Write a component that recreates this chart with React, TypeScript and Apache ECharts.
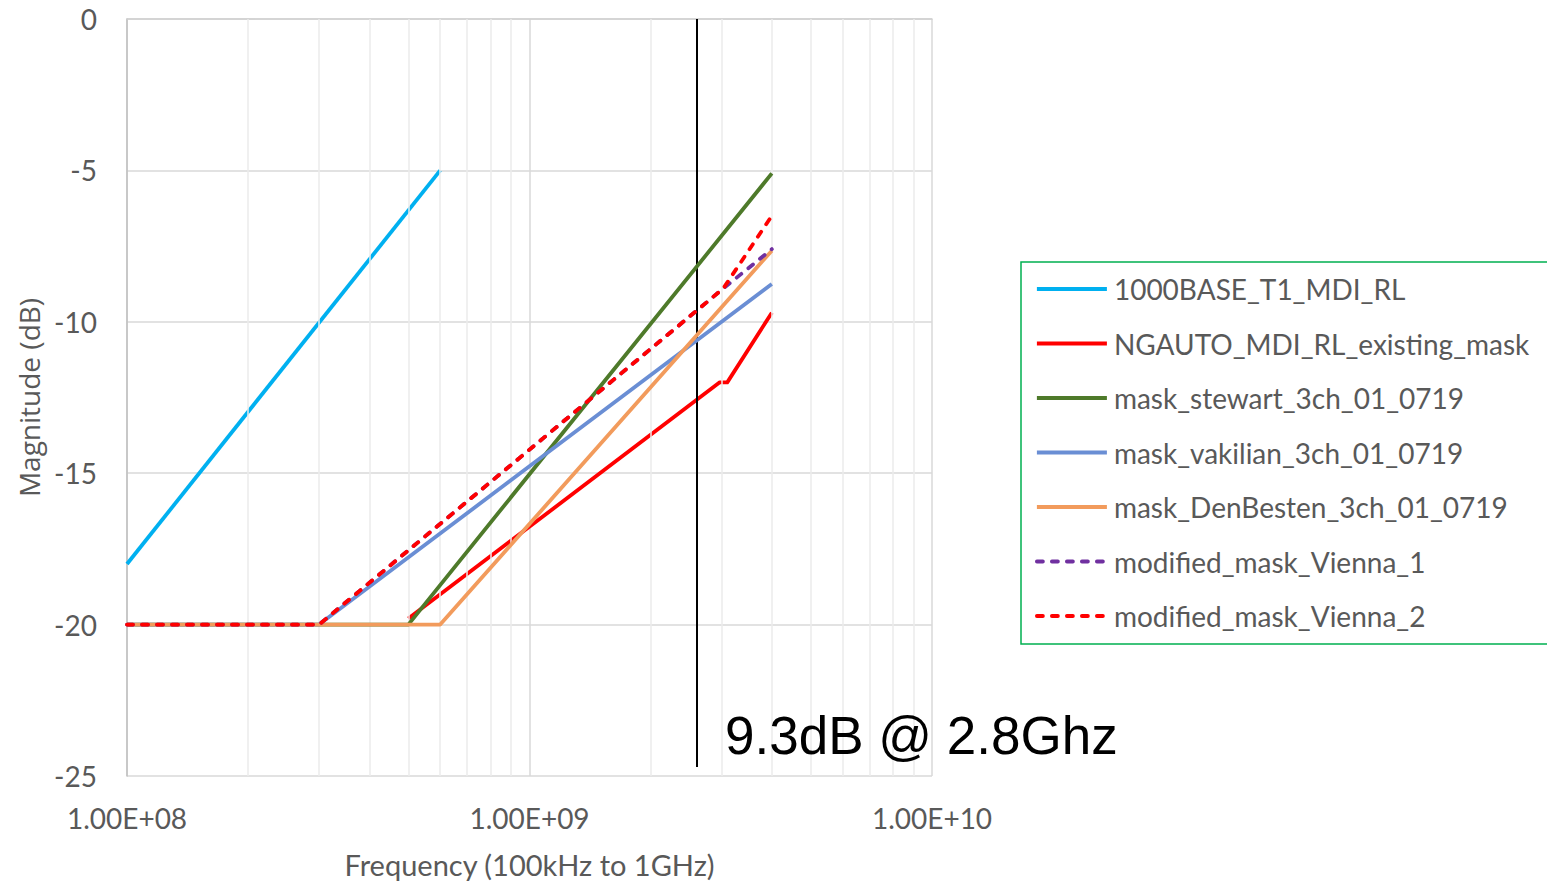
import React, { useEffect, useRef } from "react";
import * as echarts from "echarts";

const SERIES_NAMES = [
  "1000BASE_T1_MDI_RL",
  "NGAUTO_MDI_RL_existing_mask",
  "mask_stewart_3ch_01_0719",
  "mask_vakilian_3ch_01_0719",
  "mask_DenBesten_3ch_01_0719",
  "modified_mask_Vienna_1",
  "modified_mask_Vienna_2",
];

const T1_MDI_RL: [number, number][] = [[1e8, -18], [6e8, -5]];
const NGAUTO_EXISTING: [number, number][] = [[5e8, -19.8], [2.97e9, -12], [3.1e9, -12], [4e9, -9.7]];
const STEWART: [number, number][] = [[1e8, -20], [5e8, -20], [4e9, -5.1]];
const VAKILIAN: [number, number][] = [[1e8, -20], [3e8, -20], [4e9, -8.75]];
const DENBESTEN: [number, number][] = [[1e8, -20], [6e8, -20], [4e9, -7.65]];
const VIENNA_1: [number, number][] = [[1e8, -20], [3e8, -20], [3.03e9, -8.9], [4e9, -7.6]];
const VIENNA_2: [number, number][] = [[1e8, -20], [3e8, -20], [3.03e9, -8.9], [4e9, -6.5]];

const MINOR_FREQS = [2e8, 3e8, 4e8, 5e8, 6e8, 7e8, 8e8, 9e8, 2e9, 3e9, 4e9, 5e9, 6e9, 7e9, 8e9, 9e9];
const MARKER_FREQ = 2.6e9;
const MARKER_TOP = 0;
const MARKER_BOTTOM = -24.7;
const ANNOTATION = "9.3dB @ 2.8Ghz";

const X_MIN = 1e8;
const X_MAX = 1e10;
const Y_MIN = -25;
const Y_MAX = 0;
const Y_STEP = 5;

const COLORS = ["#00B0F0", "#FF0000", "#4E7A2A", "#6A8ED4", "#F29B5C", "#7030A0", "#FF0000"];

function sci(v: number): string {
  const e = Math.round(Math.log10(v));
  const m = v / Math.pow(10, e);
  const es = (e < 0 ? "-" : "+") + String(Math.abs(e)).padStart(2, "0");
  return m.toFixed(2) + "E" + es;
}

export default function App() {
  const ref = useRef<HTMLDivElement>(null);
  useEffect(() => {
    if (!ref.current) return;
    const chart = echarts.init(ref.current, null, { renderer: "svg" });
    const font = "Lato";
    const datas = [T1_MDI_RL, NGAUTO_EXISTING, STEWART, VAKILIAN, DENBESTEN, VIENNA_1, VIENNA_2];
    const series: any[] = [
      {
        name: "__grid",
        type: "line",
        data: [],
        silent: true,
        z: 1,
        markLine: {
          silent: true,
          symbol: "none",
          animation: false,
          label: { show: false },
          lineStyle: { color: "#EBEBEB", width: 1.5, type: "solid" },
          emphasis: { disabled: true },
          data: MINOR_FREQS.map((f) => ({ xAxis: f })),
        },
      },
    ];
    SERIES_NAMES.forEach((n, i) => {
      const dashed = i >= 5;
      series.push({
        name: n,
        type: "line",
        data: datas[i],
        symbol: "none",
        z: 3 + i,
        lineStyle: {
          color: COLORS[i],
          width: 3.8,
          type: dashed ? [6, 9] : "solid",
          cap: dashed ? "round" : "butt",
          join: "round",
        },
        itemStyle: { color: COLORS[i] },
      });
    });
    series.push({
      name: "__marker",
      type: "line",
      data: [],
      silent: true,
      z: 20,
      markLine: {
        silent: true,
        symbol: "none",
        animation: false,
        label: { show: false },
        lineStyle: { color: "#000000", width: 2, type: "solid" },
        emphasis: { disabled: true },
        data: [[{ coord: [MARKER_FREQ, MARKER_TOP] }, { coord: [MARKER_FREQ, MARKER_BOTTOM] }]],
      },
    });

    chart.setOption({
      animation: false,
      backgroundColor: "#ffffff",
      grid: { left: 127, right: 615, top: 19, bottom: 104, containLabel: false },
      xAxis: {
        type: "log",
        logBase: 10,
        min: X_MIN,
        max: X_MAX,
        name: "Frequency (100kHz to 1GHz)",
        nameLocation: "middle",
        nameGap: 74,
        nameTextStyle: { fontFamily: font, fontSize: 29, color: "#595959" },
        axisLine: { show: true, lineStyle: { color: "#D0D0D0", width: 1.5 } },
        axisTick: { show: false },
        axisLabel: {
          fontFamily: font,
          fontSize: 28,
          color: "#595959",
          margin: 28,
          formatter: (v: number) => sci(v),
        },
        splitLine: { show: true, lineStyle: { color: "#D9D9D9", width: 1.5 } },
      },
      yAxis: {
        type: "value",
        min: Y_MIN,
        max: Y_MAX,
        interval: Y_STEP,
        name: "Magnitude (dB)",
        nameLocation: "middle",
        nameRotate: 90,
        nameGap: 82,
        nameTextStyle: { fontFamily: "Open Sans", fontSize: 28, color: "#595959" },
        axisLine: { show: true, onZero: false, lineStyle: { color: "#BFBFBF", width: 1.5 } },
        axisTick: { show: false },
        axisLabel: { fontFamily: font, fontSize: 28, color: "#595959", margin: 30 },
        splitLine: { show: true, lineStyle: { color: "#D9D9D9", width: 1.5 } },
      },
      legend: {
        orient: "vertical",
        left: 1021,
        top: 262,
        data: SERIES_NAMES,
        borderColor: "#00B050",
        borderWidth: 1.5,
        padding: [12, 40, 13, 14],
        itemWidth: 70,
        itemHeight: 14,
        itemGap: 24.5,
        itemStyle: { opacity: 0 },
        lineStyle: { width: 3.8 },
        textStyle: { fontFamily: font, fontSize: 28, color: "#595959", lineHeight: 30, padding: [0, 0, 0, 2] },
        selectedMode: false,
      },
      graphic: [
        {
          type: "text",
          left: 725,
          top: 709,
          silent: true,
          style: {
            text: ANNOTATION,
            fill: "#000000",
            font: "53px 'Liberation Sans', Arial, sans-serif",
          },
          z: 30,
        },
      ],
      series,
    });
    return () => chart.dispose();
  }, []);
  return (
    <div
      ref={ref}
      style={{ position: "fixed", left: 0, top: 0, width: 1547, height: 884 }}
    />
  );
}
